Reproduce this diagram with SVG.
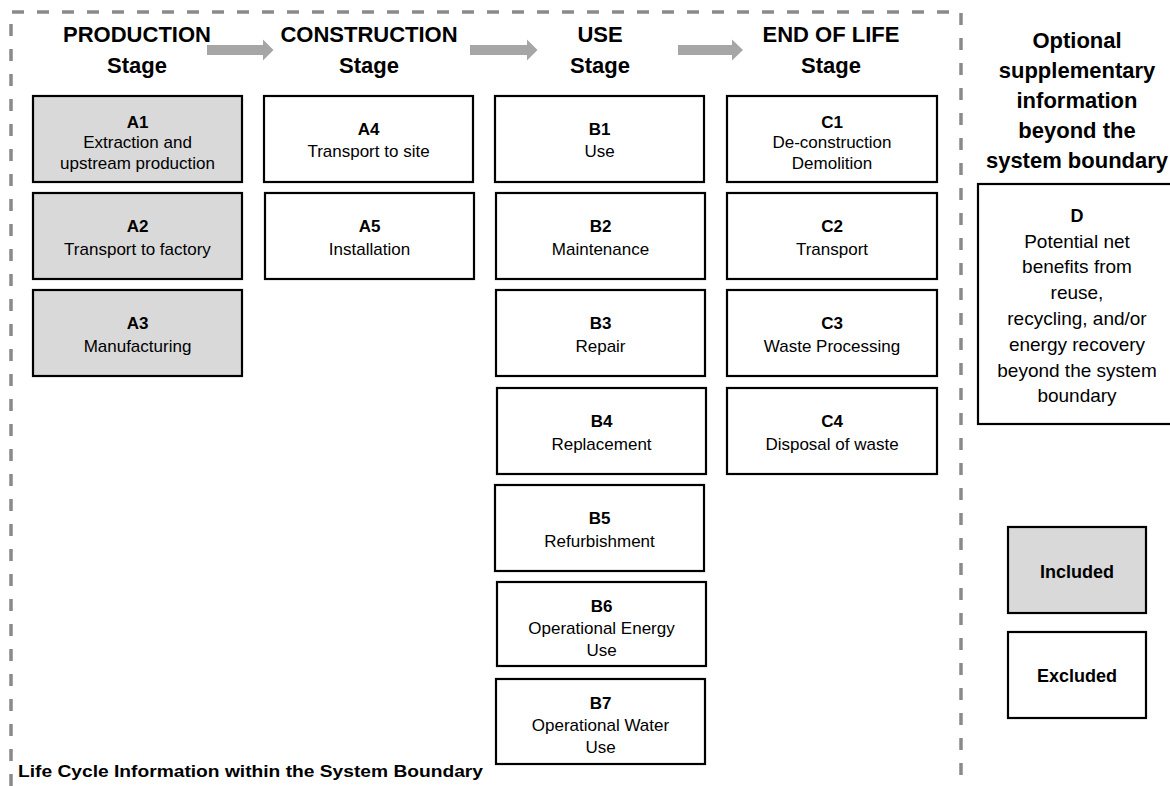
<svg xmlns="http://www.w3.org/2000/svg" width="1170" height="786" viewBox="0 0 1170 786">
<style>
.bg{fill:#ffffff}
.bnd{fill:none;stroke:#8a8a8a;stroke-width:3.5;stroke-dasharray:12 13}
.arr{fill:#a6a6a6}
.box{stroke:#000;stroke-width:2.2;fill:#ffffff}
.inc{fill:#d9d9d9}
text{font-family:"Liberation Sans",Arial,sans-serif;fill:#000;text-anchor:middle}
.hd{font-size:22px;font-weight:bold}
.lb{font-size:17px;font-weight:bold}
.ds{font-size:17px}
.dd{font-size:19px}
.lg{font-size:18px;font-weight:bold}
.ft{font-size:17px;font-weight:bold;text-anchor:start}
</style>
<rect class="bg" x="0" y="0" width="1170" height="786"/>
<path class="bnd" d="M11,786 V12 H961 V786"/>
<g id="connectors">
<polygon class="arr" points="207,45 263,45 263,39.5 273.5,50 263,60.5 263,55 207,55"/>
<polygon class="arr" points="470,45 527,45 527,39.5 537.5,50 527,60.5 527,55 470,55"/>
<polygon class="arr" points="678,45 732,45 732,39.5 743,50 732,60.5 732,55 678,55"/>
</g>
<g id="headers">
<text class="hd" x="137" y="42">PRODUCTION</text><text class="hd" x="137" y="73">Stage</text>
<text class="hd" x="369" y="42">CONSTRUCTION</text><text class="hd" x="369" y="73">Stage</text>
<text class="hd" x="600" y="42">USE</text><text class="hd" x="600" y="73">Stage</text>
<text class="hd" x="831" y="42">END OF LIFE</text><text class="hd" x="831" y="73">Stage</text>
<text class="hd" x="1077" y="48">Optional</text>
<text class="hd" x="1077" y="78">supplementary</text>
<text class="hd" x="1077" y="108">information</text>
<text class="hd" x="1077" y="138">beyond the</text>
<text class="hd" x="1077" y="168">system boundary</text>
</g>
<g id="A1"><rect class="box inc" x="33" y="96" width="209" height="86"/><text class="lb" x="137.5" y="128">A1</text><text class="ds" x="137.5" y="148">Extraction and</text><text class="ds" x="137.5" y="169">upstream production</text></g>
<g id="A2"><rect class="box inc" x="33" y="193" width="209" height="86"/><text class="lb" x="137.5" y="232">A2</text><text class="ds" x="137.5" y="255">Transport to factory</text></g>
<g id="A3"><rect class="box inc" x="33" y="290" width="209" height="86"/><text class="lb" x="137.5" y="329">A3</text><text class="ds" x="137.5" y="352">Manufacturing</text></g>
<g id="A4"><rect class="box" x="264" y="96" width="209" height="86"/><text class="lb" x="368.5" y="135">A4</text><text class="ds" x="368.5" y="157">Transport to site</text></g>
<g id="A5"><rect class="box" x="265" y="193" width="209" height="86"/><text class="lb" x="369.5" y="232">A5</text><text class="ds" x="369.5" y="255">Installation</text></g>
<g id="B1"><rect class="box" x="495" y="96" width="209" height="86"/><text class="lb" x="599.5" y="135">B1</text><text class="ds" x="599.5" y="157">Use</text></g>
<g id="B2"><rect class="box" x="496" y="193" width="209" height="86"/><text class="lb" x="600.5" y="232">B2</text><text class="ds" x="600.5" y="255">Maintenance</text></g>
<g id="B3"><rect class="box" x="496" y="290" width="209" height="86"/><text class="lb" x="600.5" y="329">B3</text><text class="ds" x="600.5" y="352">Repair</text></g>
<g id="B4"><rect class="box" x="497" y="388" width="209" height="86"/><text class="lb" x="601.5" y="427">B4</text><text class="ds" x="601.5" y="450">Replacement</text></g>
<g id="B5"><rect class="box" x="495" y="485" width="209" height="86"/><text class="lb" x="599.5" y="524">B5</text><text class="ds" x="599.5" y="547">Refurbishment</text></g>
<g id="B6"><rect class="box" x="497" y="582" width="209" height="84"/><text class="lb" x="601.5" y="612">B6</text><text class="ds" x="601.5" y="634">Operational Energy</text><text class="ds" x="601.5" y="656">Use</text></g>
<g id="B7"><rect class="box" x="496" y="679" width="209" height="85"/><text class="lb" x="600.5" y="709">B7</text><text class="ds" x="600.5" y="731">Operational Water</text><text class="ds" x="600.5" y="753">Use</text></g>
<g id="C1"><rect class="box" x="727" y="96" width="210" height="86"/><text class="lb" x="832" y="128">C1</text><text class="ds" x="832" y="148">De-construction</text><text class="ds" x="832" y="169">Demolition</text></g>
<g id="C2"><rect class="box" x="727" y="193" width="210" height="86"/><text class="lb" x="832" y="232">C2</text><text class="ds" x="832" y="255">Transport</text></g>
<g id="C3"><rect class="box" x="727" y="290" width="210" height="86"/><text class="lb" x="832" y="329">C3</text><text class="ds" x="832" y="352">Waste Processing</text></g>
<g id="C4"><rect class="box" x="727" y="388" width="210" height="86"/><text class="lb" x="832" y="427">C4</text><text class="ds" x="832" y="450">Disposal of waste</text></g>
<g id="D"><rect class="box" x="978" y="184" width="200" height="240"/>
<text class="lb" x="1077" y="222" style="font-size:18px">D</text>
<text class="dd" x="1077" y="248">Potential net</text>
<text class="dd" x="1077" y="273">benefits from</text>
<text class="dd" x="1077" y="299">reuse,</text>
<text class="dd" x="1077" y="325">recycling, and/or</text>
<text class="dd" x="1077" y="351">energy recovery</text>
<text class="dd" x="1077" y="377">beyond the system</text>
<text class="dd" x="1077" y="402">boundary</text>
</g>
<g id="legend-included"><rect class="box inc" x="1008" y="527" width="138" height="86"/><text class="lg" x="1077" y="578">Included</text></g>
<g id="legend-excluded"><rect class="box" x="1008" y="632" width="138" height="86"/><text class="lg" x="1077" y="682">Excluded</text></g>
<g id="boundary-label"><text class="ft" x="18" y="777" textLength="465" lengthAdjust="spacingAndGlyphs">Life Cycle Information within the System Boundary</text></g>
</svg>
